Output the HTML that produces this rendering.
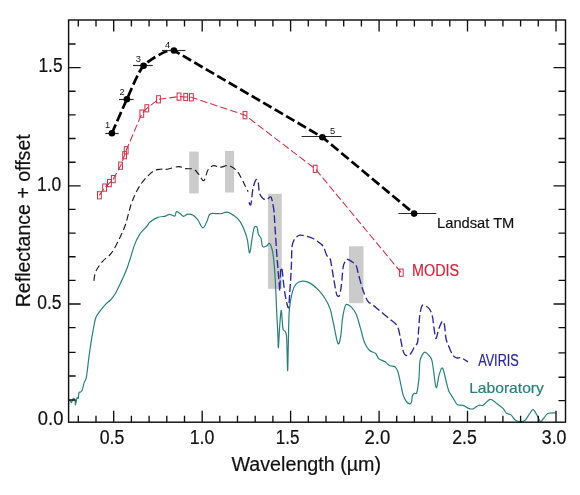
<!DOCTYPE html>
<html><head><meta charset="utf-8"><title>Reflectance spectra</title><style>
html,body{margin:0;padding:0;background:#fff;overflow:hidden;}
svg{display:block;font-family:"Liberation Sans",sans-serif;will-change:transform;}
</style></head><body>
<svg width="580" height="495" viewBox="0 0 580 495">
<rect x="0" y="0" width="580" height="495" fill="#fff"/>
<rect x="189.2" y="151.6" width="9.5" height="41.8" fill="#cbcbcb"/>
<rect x="225" y="151" width="9.1" height="41.5" fill="#cbcbcb"/>
<rect x="268" y="193.8" width="13.7" height="95.0" fill="#cbcbcb"/>
<rect x="349" y="246.3" width="14.5" height="56.9" fill="#cbcbcb"/>
<path d="M68.4,399.7C68.7,399.8 69.5,400.1 70.0,400.5C70.5,400.9 71.0,402.7 71.5,402.4C72.0,402.1 72.7,398.9 73.3,398.5C73.9,398.1 74.6,398.9 75.0,400.0C75.4,401.1 75.2,404.9 75.5,404.8C75.8,404.7 76.3,400.6 76.6,399.4C76.9,398.2 77.1,397.8 77.4,397.6C77.7,397.4 78.0,399.0 78.3,398.2C78.6,397.4 78.6,393.7 79.0,392.7C79.4,391.7 80.0,392.5 80.5,392.1C81.0,391.7 81.7,391.1 82.1,390.3C82.5,389.5 82.7,388.6 83.0,387.3C83.3,386.0 83.7,384.0 84.2,382.4C84.8,380.8 85.5,381.6 86.3,377.6C87.1,373.6 88.1,363.5 88.8,358.2C89.5,352.9 89.8,350.4 90.5,346.0C91.2,341.6 92.0,336.2 92.9,331.5C93.8,326.8 94.6,321.1 95.8,317.7C97.0,314.3 98.5,313.2 100.2,310.9C101.9,308.5 104.5,305.4 106.2,303.6C107.9,301.8 109.0,301.7 110.5,300.0C112.0,298.3 113.7,296.5 115.5,293.3C117.3,290.1 119.6,285.2 121.6,280.8C123.6,276.4 125.4,272.8 127.6,266.7C129.8,260.6 132.7,249.7 134.7,244.4C136.7,239.1 137.3,238.0 139.4,234.8C141.5,231.7 145.7,227.6 147.5,225.5C149.3,223.4 148.3,223.4 150.0,222.1C151.7,220.8 155.2,218.4 157.8,217.4C160.4,216.4 163.5,216.6 165.5,216.1C167.5,215.6 168.1,214.3 169.7,214.3C171.2,214.3 173.7,216.5 174.8,216.1C175.9,215.7 175.5,212.1 176.4,211.7C177.3,211.3 178.8,212.7 180.0,213.5C181.2,214.3 182.3,216.2 183.6,216.3C184.9,216.4 186.1,214.4 187.6,214.2C189.1,214.0 191.0,214.1 192.7,215.0C194.4,215.9 196.0,217.6 197.7,219.7C199.4,221.8 201.3,227.5 202.8,227.8C204.3,228.1 205.6,224.0 206.8,221.7C208.0,219.4 208.3,215.5 209.8,214.2C211.3,212.8 214.0,213.7 215.9,213.6C217.8,213.5 219.2,213.9 221.1,213.7C223.0,213.4 224.9,211.8 227.1,212.1C229.3,212.4 232.0,214.2 234.2,215.8C236.4,217.4 238.6,219.4 240.3,221.8C242.0,224.2 243.1,227.4 244.3,230.3C245.5,233.2 246.4,235.6 247.3,239.4C248.2,243.2 248.8,253.4 249.7,252.9C250.5,252.4 251.6,240.7 252.4,236.4C253.2,232.1 253.6,228.8 254.4,227.3C255.2,225.8 256.3,226.1 257.0,227.3C257.7,228.5 257.9,232.8 258.4,234.3C258.9,235.8 259.4,235.7 259.8,236.4C260.2,237.1 260.7,236.7 261.1,238.4C261.6,240.1 261.6,245.2 262.5,246.5C263.4,247.8 265.4,246.6 266.5,246.1C267.6,245.6 268.2,243.2 269.1,243.4C270.0,243.6 270.9,245.0 271.6,247.5C272.4,250.0 273.0,253.4 273.6,258.6C274.2,263.8 274.7,269.5 275.2,278.8C275.7,288.1 276.4,305.4 276.8,314.4C277.2,323.4 277.5,327.1 277.8,332.6C278.1,338.1 278.1,349.0 278.4,347.6C278.7,346.2 279.3,330.7 279.8,324.5C280.3,318.3 280.8,311.1 281.2,310.4C281.6,309.7 281.9,317.3 282.2,320.5C282.5,323.7 282.7,327.8 283.2,329.6C283.7,331.5 284.7,330.1 285.3,331.6C285.9,333.1 286.3,332.2 286.7,338.7C287.1,345.2 287.3,369.6 287.6,370.6C287.9,371.7 288.0,355.0 288.3,345.0C288.6,335.0 288.6,319.2 289.3,310.4C290.0,301.6 291.2,296.6 292.3,292.2C293.4,287.8 294.3,286.0 296.0,284.1C297.7,282.2 300.0,281.3 302.4,281.1C304.8,280.9 307.5,281.7 310.1,283.1C312.7,284.5 315.6,287.1 318.1,289.7C320.6,292.3 323.2,295.6 325.2,298.8C327.2,302.0 328.9,305.2 330.2,309.1C331.5,313.0 331.9,316.5 333.2,322.2C334.5,327.9 336.6,341.0 337.9,343.4C339.1,345.8 340.0,340.3 340.7,336.4C341.4,332.5 341.7,324.8 342.3,320.2C342.9,315.6 343.6,311.7 344.3,309.1C345.0,306.5 345.2,304.7 346.4,304.4C347.6,304.1 349.8,305.5 351.4,307.1C353.0,308.7 354.6,310.6 356.1,314.1C357.6,317.6 359.1,323.6 360.5,328.3C361.9,333.0 363.0,338.7 364.5,342.4C366.0,346.1 367.7,348.6 369.6,350.5C371.5,352.4 374.2,352.1 375.7,353.5C377.2,354.9 377.2,357.2 378.7,358.6C380.2,360.0 382.8,360.4 384.7,361.6C386.6,362.8 388.1,364.9 389.8,365.7C391.5,366.5 393.5,365.7 394.8,366.7C396.1,367.7 396.9,368.7 397.9,371.7C398.9,374.7 400.0,380.9 400.9,384.8C401.8,388.7 402.2,392.1 403.1,394.9C404.0,397.7 405.2,399.9 406.3,401.4C407.4,402.9 408.6,403.7 409.5,403.8C410.4,403.9 411.0,403.6 411.5,402.2C412.0,400.8 411.9,397.2 412.4,395.7C412.9,394.2 413.7,393.8 414.4,393.3C415.1,392.8 416.1,394.9 416.8,392.5C417.6,390.1 418.4,384.1 418.9,378.8C419.4,373.6 419.4,365.1 420.0,361.0C420.6,356.9 421.7,356.0 422.5,354.5C423.3,353.0 423.8,352.0 424.9,352.1C426.0,352.2 427.8,354.0 428.9,355.3C430.0,356.6 431.0,357.4 431.8,360.2C432.6,363.0 433.1,367.7 433.8,372.3C434.5,376.9 435.3,387.4 436.2,387.7C437.1,388.0 438.3,377.1 439.4,373.9C440.5,370.7 441.5,366.7 442.7,368.3C443.9,369.9 445.6,379.7 446.7,383.6C447.8,387.5 448.0,389.3 449.1,391.7C450.2,394.1 451.9,396.0 453.2,398.2C454.5,400.4 455.6,403.4 457.2,404.6C458.8,405.8 461.0,404.8 462.9,405.4C464.8,406.0 466.9,407.8 468.6,408.4C470.3,409.0 471.4,409.3 473.1,408.8C474.8,408.3 476.9,405.8 478.6,405.2C480.3,404.6 481.2,406.2 483.1,405.2C485.1,404.2 488.0,399.7 490.3,399.4C492.6,399.1 494.6,401.9 496.7,403.4C498.8,404.9 501.4,406.8 503.0,408.4C504.6,410.0 505.2,412.2 506.6,413.3C508.0,414.4 509.8,414.0 511.2,415.1C512.6,416.2 513.4,418.6 514.8,419.7C516.1,420.8 517.6,421.4 519.3,421.5C520.9,421.6 523.0,421.8 524.7,420.6C526.4,419.4 527.9,416.0 529.3,414.2C530.7,412.4 531.7,409.7 532.9,409.7C534.1,409.7 535.5,412.5 536.5,414.2C537.5,415.9 538.5,418.5 539.2,419.7C540.0,420.9 540.1,422.0 541.0,421.5C541.9,421.0 543.5,418.3 544.7,416.9C545.9,415.5 546.5,414.0 548.3,413.3C550.1,412.6 554.3,412.9 555.5,412.8" fill="none" stroke="#2a7f7a" stroke-width="1.2" stroke-linejoin="round"/>
<path d="M93.9,280.8C94.2,279.3 94.3,274.9 95.7,271.7C97.1,268.5 99.8,264.7 102.4,261.6C105.0,258.5 108.7,256.8 111.5,252.9C114.3,249.0 117.2,243.2 119.5,238.4C121.8,233.6 123.7,229.8 125.6,224.2C127.5,218.5 129.2,210.1 131.1,204.5C133.0,198.9 134.9,194.5 137.1,190.4C139.3,186.3 141.5,183.1 144.2,179.9C146.9,176.7 150.6,173.0 153.3,171.2C156.0,169.4 158.1,169.5 160.4,169.2C162.8,168.9 164.4,169.6 167.4,169.2C170.4,168.8 175.5,166.7 178.5,166.6C181.5,166.5 183.1,168.2 185.6,168.6C188.1,169.0 191.5,168.3 193.7,169.2C195.9,170.1 197.0,172.3 198.7,174.2C200.4,176.1 202.3,181.4 203.8,180.7C205.3,180.0 206.3,172.7 207.8,170.2C209.3,167.7 211.2,166.4 212.9,165.8C214.6,165.2 216.5,166.4 217.9,166.6C219.3,166.8 219.7,167.3 221.5,167.1C223.3,166.9 226.3,165.0 228.7,165.5C231.1,166.0 234.0,168.0 236.0,169.9C238.0,171.8 239.4,174.6 240.9,177.2C242.4,179.8 243.7,182.8 244.9,185.2C246.1,187.6 247.6,190.6 248.1,191.7" fill="none" stroke="#1a1a1a" stroke-width="1.15" stroke-dasharray="6.5,3.5"/>
<path d="M248.9,202.2C249.2,202.5 250.2,206.6 250.9,204.3C251.6,202.0 252.1,192.6 253.0,188.5C253.9,184.4 255.3,180.5 256.2,179.6C257.1,178.7 257.8,180.7 258.3,182.8C258.8,185.0 258.7,189.9 259.4,192.5C260.1,195.1 261.5,197.0 262.7,198.2C263.9,199.4 265.4,199.7 266.7,199.5C268.0,199.3 269.8,196.6 270.7,196.9C271.6,197.2 271.8,199.0 272.4,201.4C272.9,203.8 273.6,208.0 274.0,211.1C274.4,214.2 274.2,213.7 274.6,220.2C275.0,226.7 276.0,242.2 276.5,250.0C277.0,257.8 277.4,261.3 277.8,267.0C278.2,272.7 278.9,280.0 279.2,284.0C279.5,288.0 279.6,291.7 279.8,291.0C280.0,290.3 280.0,283.8 280.2,280.0C280.4,276.2 280.6,269.5 281.0,268.0C281.4,266.5 281.9,268.8 282.3,271.0C282.7,273.2 282.9,277.2 283.3,281.0C283.8,284.8 284.4,290.2 285.0,294.0C285.6,297.8 286.4,301.8 287.0,304.0C287.6,306.2 288.2,309.0 288.6,307.5C289.0,306.0 289.3,299.6 289.6,295.0C289.9,290.4 290.3,285.0 290.6,280.0C290.9,275.0 291.2,270.5 291.4,265.0C291.6,259.5 291.6,251.1 292.0,247.0C292.4,242.9 293.1,242.2 293.8,240.5C294.6,238.8 295.5,237.9 296.5,237.0C297.5,236.1 298.6,235.4 299.8,235.2C301.1,235.0 302.0,235.1 304.0,235.6C306.0,236.1 309.7,237.1 311.7,237.9C313.7,238.7 314.4,239.3 316.0,240.4C317.6,241.5 320.0,243.1 321.3,244.3C322.6,245.5 322.9,245.5 323.8,247.4C324.7,249.3 325.8,253.7 326.9,255.6C327.9,257.5 329.4,257.2 330.1,258.7C330.8,260.1 330.7,260.9 331.3,264.3C331.9,267.8 333.0,274.6 333.8,279.4C334.6,284.2 335.7,290.5 336.3,293.2C336.9,295.9 337.0,295.4 337.5,295.8C338.0,296.2 338.9,297.2 339.5,295.5C340.1,293.8 340.7,290.5 341.3,285.7C341.9,280.9 342.6,270.9 343.2,266.9C343.8,262.9 344.4,263.1 345.1,261.8C345.8,260.5 346.1,259.4 347.2,259.3C348.2,259.2 349.9,260.4 351.4,261.4C352.9,262.4 354.9,263.3 356.1,265.5C357.3,267.7 357.4,270.6 358.5,274.5C359.6,278.4 361.0,284.3 362.5,288.7C364.0,293.1 365.9,298.1 367.6,300.8C369.3,303.5 370.4,303.0 372.6,304.8C374.8,306.6 377.8,309.1 380.7,311.5C383.6,313.9 387.1,316.9 389.8,319.2C392.5,321.5 395.2,322.6 396.9,325.3C398.6,328.0 399.0,331.6 399.9,335.4C400.8,339.2 401.6,345.0 402.4,348.2C403.2,351.4 403.7,353.4 404.8,354.6C405.9,355.8 407.7,355.9 408.9,355.4C410.1,354.9 411.2,352.9 412.1,351.4C413.0,349.9 413.6,348.0 414.5,346.5C415.4,345.0 416.8,345.2 417.5,342.5C418.2,339.8 418.2,334.8 418.6,330.4C419.0,325.9 419.2,319.8 419.7,315.8C420.2,311.8 421.1,307.9 421.8,306.2C422.6,304.5 423.0,305.0 424.2,305.4C425.4,305.8 427.8,306.9 429.1,308.6C430.5,310.3 431.5,312.7 432.3,315.8C433.1,318.9 433.3,323.4 433.9,327.2C434.5,331.0 435.1,338.2 435.9,338.5C436.7,338.8 437.7,331.6 438.8,328.8C439.9,326.0 441.4,322.2 442.3,321.5C443.2,320.8 443.8,321.9 444.4,324.7C445.0,327.5 445.3,335.0 446.0,338.5C446.7,342.0 447.4,343.0 448.5,345.7C449.6,348.4 451.2,352.6 452.5,354.6C453.8,356.6 455.0,357.3 456.5,357.9C458.0,358.4 459.5,357.2 461.4,357.9C463.3,358.6 466.8,361.2 467.9,361.9" fill="none" stroke="#2e2596" stroke-width="1.35" stroke-dasharray="8,3.2"/>
<polyline points="99.4,195.3 104.6,187.6 109.4,183.1 113.3,179.1 120.6,165.7 124.6,155.2 126.2,150.3 141.8,113.6 146.8,108.3 158.5,99.3 179.0,96.6 185.7,97.0 191.4,97.3 245.0,115.2 315.2,168.8 401.3,272.7" fill="none" stroke="#d03048" stroke-width="1.05" stroke-dasharray="7.5,3"/>
<rect x="97.5" y="191.7" width="3.8" height="7.2" fill="none" stroke="#d03048" stroke-width="1"/>
<rect x="102.7" y="184.0" width="3.8" height="7.2" fill="none" stroke="#d03048" stroke-width="1"/>
<rect x="107.5" y="179.5" width="3.8" height="7.2" fill="none" stroke="#d03048" stroke-width="1"/>
<rect x="111.4" y="175.5" width="3.8" height="7.2" fill="none" stroke="#d03048" stroke-width="1"/>
<rect x="118.7" y="162.1" width="3.8" height="7.2" fill="none" stroke="#d03048" stroke-width="1"/>
<rect x="122.7" y="151.6" width="3.8" height="7.2" fill="none" stroke="#d03048" stroke-width="1"/>
<rect x="124.3" y="146.7" width="3.8" height="7.2" fill="none" stroke="#d03048" stroke-width="1"/>
<rect x="139.9" y="110.0" width="3.8" height="7.2" fill="none" stroke="#d03048" stroke-width="1"/>
<rect x="144.9" y="104.7" width="3.8" height="7.2" fill="none" stroke="#d03048" stroke-width="1"/>
<rect x="156.6" y="95.7" width="3.8" height="7.2" fill="none" stroke="#d03048" stroke-width="1"/>
<rect x="177.1" y="93.0" width="3.8" height="7.2" fill="none" stroke="#d03048" stroke-width="1"/>
<rect x="183.8" y="93.4" width="3.8" height="7.2" fill="none" stroke="#d03048" stroke-width="1"/>
<rect x="189.5" y="93.7" width="3.8" height="7.2" fill="none" stroke="#d03048" stroke-width="1"/>
<rect x="243.1" y="111.6" width="3.8" height="7.2" fill="none" stroke="#d03048" stroke-width="1"/>
<rect x="313.3" y="165.2" width="3.8" height="7.2" fill="none" stroke="#d03048" stroke-width="1"/>
<rect x="399.4" y="269.1" width="3.8" height="7.2" fill="none" stroke="#d03048" stroke-width="1"/>
<path d="M111.9,133.2C114.9,126.4 123.7,106.0 126.9,99.3C130.1,92.5 138.4,71.1 143.6,65.7C148.3,60.8 167.6,48.0 173.9,50.5L322.4,137.2L414.1,213.6" fill="none" stroke="#000" stroke-width="2.7" stroke-dasharray="9.6,3.7"/>
<line x1="105.3" y1="133.5" x2="118.7" y2="133.5" stroke="#2a2a2a" stroke-width="1.15"/>
<circle cx="111.9" cy="133.2" r="3.3" fill="#000"/>
<line x1="119" y1="99.5" x2="133.7" y2="99.5" stroke="#2a2a2a" stroke-width="1.15"/>
<circle cx="126.9" cy="99.3" r="3.3" fill="#000"/>
<line x1="133" y1="65.5" x2="152.7" y2="65.5" stroke="#2a2a2a" stroke-width="1.15"/>
<circle cx="143.6" cy="65.7" r="3.3" fill="#000"/>
<line x1="162" y1="50.5" x2="185.5" y2="50.5" stroke="#2a2a2a" stroke-width="1.15"/>
<circle cx="173.9" cy="50.5" r="3.3" fill="#000"/>
<line x1="301.6" y1="136.5" x2="341.6" y2="136.5" stroke="#2a2a2a" stroke-width="1.15"/>
<circle cx="322.4" cy="137.2" r="3.3" fill="#000"/>
<line x1="398.4" y1="213.5" x2="436.3" y2="213.5" stroke="#2a2a2a" stroke-width="1.15"/>
<circle cx="414.1" cy="213.6" r="3.3" fill="#000"/>
<rect x="68.6" y="20" width="496.9" height="402.2" fill="none" stroke="#111" stroke-width="1.45"/>
<path d="M78.3,422.2v-6.5M78.3,20v6.5M96.0,422.2v-6.5M96.0,20v6.5M113.7,422.2v-11.5M113.7,20v11.5M131.4,422.2v-6.5M131.4,20v6.5M149.1,422.2v-6.5M149.1,20v6.5M166.8,422.2v-6.5M166.8,20v6.5M184.5,422.2v-6.5M184.5,20v6.5M202.2,422.2v-11.5M202.2,20v11.5M219.8,422.2v-6.5M219.8,20v6.5M237.5,422.2v-6.5M237.5,20v6.5M255.2,422.2v-6.5M255.2,20v6.5M272.9,422.2v-6.5M272.9,20v6.5M290.6,422.2v-11.5M290.6,20v11.5M308.3,422.2v-6.5M308.3,20v6.5M326.0,422.2v-6.5M326.0,20v6.5M343.7,422.2v-6.5M343.7,20v6.5M361.4,422.2v-6.5M361.4,20v6.5M379.1,422.2v-11.5M379.1,20v11.5M396.7,422.2v-6.5M396.7,20v6.5M414.4,422.2v-6.5M414.4,20v6.5M432.1,422.2v-6.5M432.1,20v6.5M449.8,422.2v-6.5M449.8,20v6.5M467.5,422.2v-11.5M467.5,20v11.5M485.2,422.2v-6.5M485.2,20v6.5M502.9,422.2v-6.5M502.9,20v6.5M520.6,422.2v-6.5M520.6,20v6.5M538.3,422.2v-6.5M538.3,20v6.5M556.0,422.2v-11.5M556.0,20v11.5M68.6,400.0h7M565.5,400.6h-7M68.6,376.0h7M565.5,377.2h-7M68.6,352.3h7M565.5,352.9h-7M68.6,327.6h7M565.5,327.6h-7M68.6,304.0h12M565.5,304.0h-12M68.6,280.4h7M565.5,280.4h-7M68.6,256.7h7M565.5,256.7h-7M68.6,233.1h7M565.5,233.1h-7M68.6,209.4h7M565.5,209.4h-7M68.6,185.8h12M565.5,185.8h-12M68.6,162.2h7M565.5,162.2h-7M68.6,138.5h7M565.5,138.5h-7M68.6,114.9h7M565.5,114.9h-7M68.6,91.2h7M565.5,91.2h-7M68.6,67.6h12M565.5,67.6h-12M68.6,44.0h7M565.5,44.0h-7" stroke="#111" stroke-width="1.35" fill="none"/>
<text x="99.76" y="443.50" font-size="19.6" fill="#111" stroke="#111" stroke-width="0.2" textLength="24.64" lengthAdjust="spacingAndGlyphs">0.5</text>
<text x="189.70" y="443.50" font-size="19.6" fill="#111" stroke="#111" stroke-width="0.2" textLength="24.64" lengthAdjust="spacingAndGlyphs">1.0</text>
<text x="275.85" y="443.50" font-size="19.6" fill="#111" stroke="#111" stroke-width="0.2" textLength="23.72" lengthAdjust="spacingAndGlyphs">1.5</text>
<text x="364.52" y="443.50" font-size="19.6" fill="#111" stroke="#111" stroke-width="0.2" textLength="25.76" lengthAdjust="spacingAndGlyphs">2.0</text>
<text x="452.26" y="443.50" font-size="19.6" fill="#111" stroke="#111" stroke-width="0.2" textLength="24.53" lengthAdjust="spacingAndGlyphs">2.5</text>
<text x="541.77" y="443.50" font-size="19.6" fill="#111" stroke="#111" stroke-width="0.2" textLength="24.67" lengthAdjust="spacingAndGlyphs">3.0</text>
<text x="38.43" y="72.00" font-size="19.6" fill="#111" stroke="#111" stroke-width="0.2" textLength="24.15" lengthAdjust="spacingAndGlyphs">1.5</text>
<text x="36.92" y="190.70" font-size="19.6" fill="#111" stroke="#111" stroke-width="0.2" textLength="24.32" lengthAdjust="spacingAndGlyphs">1.0</text>
<text x="37.27" y="308.70" font-size="19.6" fill="#111" stroke="#111" stroke-width="0.2" textLength="24.32" lengthAdjust="spacingAndGlyphs">0.5</text>
<text x="37.83" y="424.60" font-size="19.6" fill="#111" stroke="#111" stroke-width="0.2" textLength="25.54" lengthAdjust="spacingAndGlyphs">0.0</text>
<text x="231.46" y="471.30" font-size="20" fill="#111" stroke="#111" stroke-width="0.2" textLength="149.60" lengthAdjust="spacingAndGlyphs">Wavelength (µm)</text>
<text transform="translate(30.2,307.3) rotate(-90)" font-size="20" textLength="173" lengthAdjust="spacingAndGlyphs" fill="#111" stroke="#111" stroke-width="0.2">Reflectance + offset</text>
<text x="437.05" y="227.60" font-size="15.0" fill="#111" stroke="#111" stroke-width="0.2" textLength="77.30" lengthAdjust="spacingAndGlyphs">Landsat TM</text>
<text x="411.97" y="275.50" font-size="15.6" fill="#cc2a40" stroke="#cc2a40" stroke-width="0.2" textLength="47.14" lengthAdjust="spacingAndGlyphs">MODIS</text>
<text x="478.13" y="365.50" font-size="15.6" fill="#2d299c" stroke="#2d299c" stroke-width="0.2" textLength="40.69" lengthAdjust="spacingAndGlyphs">AVIRIS</text>
<text x="469.17" y="392.50" font-size="15.0" fill="#2a807b" stroke="#2a807b" stroke-width="0.2" textLength="74.71" lengthAdjust="spacingAndGlyphs">Laboratory</text>
<text x="107.6" y="127.5" font-size="9.3" text-anchor="middle" fill="#111">1</text>
<text x="122" y="94.9" font-size="9.3" text-anchor="middle" fill="#111">2</text>
<text x="138.3" y="61.9" font-size="9.3" text-anchor="middle" fill="#111">3</text>
<text x="167.5" y="47.9" font-size="9.3" text-anchor="middle" fill="#111">4</text>
<text x="332.6" y="133.7" font-size="9.3" text-anchor="middle" fill="#111">5</text>
</svg>
</body></html>
